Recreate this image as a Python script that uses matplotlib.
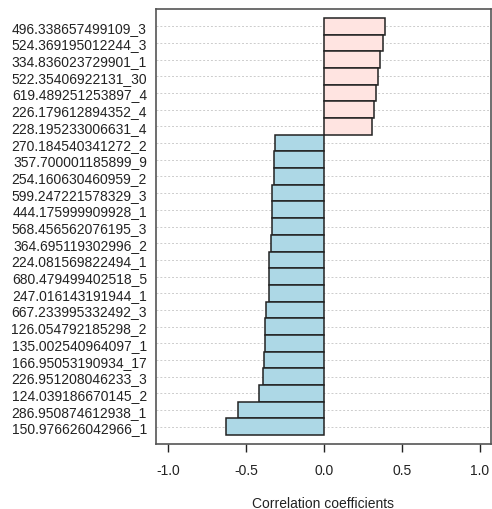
import matplotlib
matplotlib.use("Agg")
import matplotlib.pyplot as plt
import numpy as np

plt.rcParams['font.family'] = ['Liberation Sans', 'DejaVu Sans']

labels = [
    "496.338657499109_3", "524.369195012244_3", "334.836023729901_1",
    "522.35406922131_30", "619.489251253897_4", "226.179612894352_4",
    "228.195233006631_4", "270.184540341272_2", "357.700001185899_9",
    "254.160630460959_2", "599.247221578329_3", "444.175999909928_1",
    "568.456562076195_3", "364.695119302996_2", "224.081569822494_1",
    "680.479499402518_5", "247.016143191944_1", "667.233995332492_3",
    "126.054792185298_2", "135.002540964097_1", "166.95053190934_17",
    "226.951208046233_3", "124.039186670145_2", "286.950874612938_1",
    "150.976626042966_1",
]
coefs = [
    0.391, 0.376, 0.361, 0.348, 0.333, 0.322, 0.310,
    -0.314, -0.321, -0.320, -0.335, -0.335, -0.333, -0.343,
    -0.350, -0.350, -0.350, -0.369, -0.378, -0.378, -0.385,
    -0.391, -0.414, -0.549, -0.630,
]
xticks = [-1.0, -0.5, 0.0, 0.5, 1.0]

fig = plt.figure(figsize=(4.92, 5.10), dpi=100)
ax = fig.add_axes([156/492, 1-445/510, (490.5-156)/492, (445-10)/510])

n = len(labels)
ypos = np.arange(n)[::-1]
colors = ["#FFE4E1" if c > 0 else "#ADD8E6" for c in coefs]

for y in ypos:
    ax.axhline(y, color="#cccccc", lw=0.7, ls=(0, (2, 2)), zorder=0)
ax.barh(ypos, coefs, height=1.0, color=colors, edgecolor="#222222", lw=1.1, zorder=2)

ax.set_xlim(-1.077, 1.067)
ax.set_ylim(-1.03, n - 1 + 1.03)
ax.set_yticks(ypos)
ax.set_yticklabels(labels, fontsize=10, color="#222222")
ax.tick_params(axis='y', length=0, pad=6.5)
ax.set_xticks(xticks)
ax.set_xticklabels(["%.1f" % t for t in xticks], fontsize=10, color="#222222")
ax.tick_params(axis='x', length=5.5, width=1, pad=8, color="#222222")
ax.set_xlabel("Correlation coefficients", fontsize=10, color="#222222", labelpad=14)
for s in ax.spines.values():
    s.set_color("#555555")
    s.set_linewidth(1.2)

fig.savefig("out.png", dpi=100)
